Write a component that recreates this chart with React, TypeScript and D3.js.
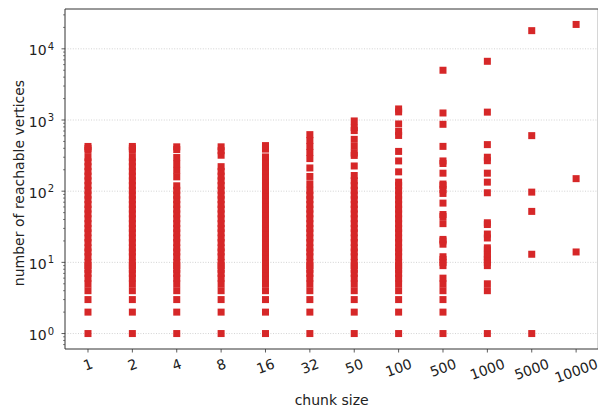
import React from "react";
import * as d3 from "d3";

const W = 598;
const H = 412;

const categories = ["1", "2", "4", "8", "16", "32", "50", "100", "500", "1000", "5000", "10000"];

// shared low run of reachable-vertex counts seen in the dense columns
const lowRun = [1, 2, 3, 4, 5, 6, 7, 8, 9, 10, 12, 14, 16, 19, 22, 26, 30, 35, 41, 48, 56, 65, 76, 88, 103];

const vals1 = [...lowRun, 120, 140, 163, 190, 221, 258, 298, 374, 400, 425];
const vals2 = [...lowRun, 120, 140, 163, 190, 221, 258, 298, 374, 400, 425];
const vals4 = [...lowRun, 119, 159, 196, 241, 297, 384, 420];
const vals8 = [...lowRun, 120, 140, 163, 190, 221, 320, 370, 420];
const vals16 = [...lowRun, 120, 140, 163, 190, 221, 258, 303, 390, 437];
const vals32 = [...lowRun, 127, 161, 212, 287, 350, 425, 516, 623];
const vals50 = [...lowRun, 120, 140, 166, 226, 318, 343, 426, 535, 710, 785, 970];
const vals100 = [...lowRun, 120, 134, 187, 266, 362, 607, 690, 880, 1300, 1430];
const vals500 = [1, 2, 3, 4, 5, 6, 9, 10, 11, 12, 18, 20, 21, 35, 44, 47, 68, 93, 105, 120, 126, 179, 245, 266, 426, 870, 1255, 5000];
const vals1000 = [1, 4, 5, 9, 10, 11, 12, 13, 15, 16, 22, 25, 34, 36, 95, 134, 179, 268, 300, 451, 1290, 6680];
const vals5000 = [1, 13, 52, 97, 603, 18000];
const vals10000 = [14, 150, 22000];

const seriesValues = [vals1, vals2, vals4, vals8, vals16, vals32, vals50, vals100, vals500, vals1000, vals5000, vals10000];

const yMajor = [0, 1, 2, 3, 4];

const FONT = "DejaVu Sans, sans-serif";
const RED = "#d62728";

export default function App() {
  const left = 65;
  const right = 598.3;
  const top = 9;
  const bottom = 349;

  const x = d3.scaleLinear().domain([-0.518, 11.5]).range([left, right]);
  const y = d3
    .scaleLog()
    .domain([Math.pow(10, -0.2171), Math.pow(10, 4.5594)])
    .range([bottom, top]);

  const minorTicks: number[] = [];
  for (let e = -1; e <= 4; e++) {
    for (let m = 2; m <= 9; m++) {
      const v = m * Math.pow(10, e);
      const yy = y(v);
      if (yy <= bottom && yy >= top) minorTicks.push(v);
    }
  }

  const points: { i: number; v: number }[] = [];
  seriesValues.forEach((arr, i) => arr.forEach((v) => points.push({ i, v })));

  const ms = 7;
  const fs = 14;
  const rot = 20;
  const rad = (rot * Math.PI) / 180;

  return (
    <svg
      width={W}
      height={H}
      style={{ position: "fixed", left: 0, top: 0, background: "#fff" }}
      fontFamily={FONT}
    >
      <rect x={0} y={0} width={W} height={H} fill="#fff" />
      {/* grid */}
      {yMajor.map((e) => (
        <line
          key={"g" + e}
          x1={left}
          x2={right}
          y1={y(Math.pow(10, e))}
          y2={y(Math.pow(10, e))}
          stroke="#c8c8c8"
          strokeWidth={0.8}
          strokeDasharray="1 1.6"
        />
      ))}
      {/* markers */}
      {points.map((p, k) => (
        <rect
          key={k}
          x={x(p.i) - ms / 2}
          y={y(p.v) - ms / 2}
          width={ms}
          height={ms}
          fill={RED}
        />
      ))}
      {/* spines */}
      <line x1={left} x2={left} y1={top} y2={bottom} stroke="#333" strokeWidth={1} />
      <line x1={left} x2={right} y1={bottom} y2={bottom} stroke="#333" strokeWidth={1} />
      <line x1={left} x2={right} y1={top} y2={top} stroke="#333" strokeWidth={1} />
      <line x1={right} x2={right} y1={top} y2={bottom} stroke="#333" strokeWidth={1} />
      {/* y ticks */}
      {minorTicks.map((v, k) => (
        <line key={"m" + k} x1={left} x2={left - 2} y1={y(v)} y2={y(v)} stroke="#333" strokeWidth={0.6} />
      ))}
      {yMajor.map((e) => {
        const yy = y(Math.pow(10, e));
        return (
          <g key={"yt" + e}>
            <line x1={left} x2={left - 3.5} y1={yy} y2={yy} stroke="#333" strokeWidth={0.8} />
            <text x={54} y={yy + 6.5} textAnchor="end" fontSize={fs} fill="#222">
              <tspan>10</tspan>
              <tspan dx={1} dy={-5.5} fontSize={10}>
                {String(e)}
              </tspan>
            </text>
          </g>
        );
      })}
      {/* x ticks */}
      {categories.map((c, i) => {
        const cx = x(i);
        const w = c.length * 0.636 * fs;
        const hb = w * Math.sin(rad) + 15 * Math.cos(rad);
        const cy = bottom + 7 + hb / 2;
        return (
          <g key={"xt" + i}>
            <line x1={cx} x2={cx} y1={bottom} y2={bottom + 3.5} stroke="#333" strokeWidth={0.8} />
            <text
              transform={`translate(${cx},${cy}) rotate(${-rot})`}
              textAnchor="middle"
              dy="0.36em"
              fontSize={fs}
              fill="#222"
            >
              {c}
            </text>
          </g>
        );
      })}
      {/* axis labels */}
      <text x={(left + right) / 2} y={405} textAnchor="middle" fontSize={fs} fill="#222">
        chunk size
      </text>
      <text
        transform={`translate(23.5,183) rotate(-90)`}
        textAnchor="middle"
        fontSize={fs}
        fill="#222"
      >
        number of reachable vertices
      </text>
    </svg>
  );
}
